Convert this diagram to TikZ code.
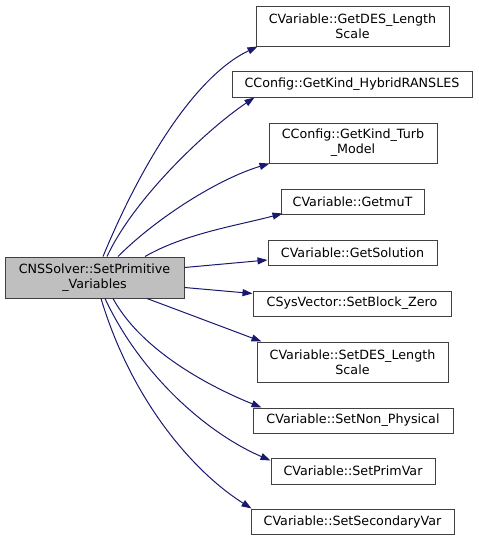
\documentclass[tikz,border=0pt]{standalone}
\usepackage{fontspec}
\setmainfont{DejaVu Sans}
\usetikzlibrary{arrows.meta,calc}
\definecolor{callblue}{HTML}{191970}
\definecolor{boxgray}{HTML}{BFBFBF}
\tikzset{
      callbox/.style={
        draw=black!75,
        line width=1pt,
        fill=white,
        inner sep=0pt,
        align=center,
        font=\fontsize{12.7}{15}\selectfont
      },
      callerbox/.style={
        callbox,
        fill=boxgray
      },
      call/.style={
        draw=callblue,
        line width=1pt,
        -{Triangle[length=10pt,width=7pt]},
        fill=none
      }
    }

\begin{document}
\begin{tikzpicture}[x=1pt,y=-1pt]
    \useasboundingbox (0,0) rectangle (479,541);
    \node[callerbox, minimum width=179pt, minimum height=41pt] (caller) at (94.5,277.5) {CNSSolver::SetPrimitive\\\_Variables};
    \node[callbox, minimum width=193pt, minimum height=40pt] (c1) at (352.5,26) {CVariable::GetDES\_Length\\Scale};
    \node[callbox, minimum width=240pt, minimum height=26pt] (c2) at (352,84) {CConfig::GetKind\_HybridRANSLES};
    \node[callbox, minimum width=168pt, minimum height=40pt] (c3) at (353,143) {CConfig::GetKind\_Turb\\\_Model};
    \node[callbox, minimum width=143pt, minimum height=25pt] (c4) at (352.5,201.5) {CVariable::GetmuT};
    \node[callbox, minimum width=169pt, minimum height=25pt] (c5) at (352.5,252.5) {CVariable::GetSolution};
    \node[callbox, minimum width=198pt, minimum height=25pt] (c6) at (352,303.5) {CSysVector::SetBlock\_Zero};
    \node[callbox, minimum width=191pt, minimum height=40pt] (c7) at (352.5,362) {CVariable::SetDES\_Length\\Scale};
    \node[callbox, minimum width=200pt, minimum height=25pt] (c8) at (353,420.5) {CVariable::SetNon\_Physical};
    \node[callbox, minimum width=164pt, minimum height=26pt] (c9) at (353,471) {CVariable::SetPrimVar};
    \node[callbox, minimum width=203pt, minimum height=25pt] (c10) at (352.5,521.5) {CVariable::SetSecondaryVar};
    % calls from the caller
    \draw[call] ($(caller.north)+(8.5,0)$) .. controls +(38,-92) and +(-63,30) .. ($(c1.south west)+(2,0)$);
    \draw[call] ($(caller.north)+(12.5,0)$) .. controls +(28,-60) and +(-45,30) .. ($(c2.south west)+(23,0)$);
    \draw[call] ($(caller.north)+(23.5,0)$) .. controls +(40,-40) and +(-50,15) .. ($(c3.south west)+(1,0)$);
    \draw[call] ($(caller.north)+(50.5,0)$) .. controls +(40,-23) and +(-45,12) .. ($(c4.south west)+(2,-1)$);
    \draw[call] ($(caller.east)+(0,-10)$) -- ($(c5.west)+(0,7.5)$);
    \draw[call] ($(caller.east)+(0,10)$) -- ($(c6.west)+(0,-10)$);
    \draw[call] ($(caller.south)+(52.5,0)$) .. controls +(40,15) and +(-40,-15) .. ($(c7.north west)+(5,0)$);
    \draw[call] ($(caller.south)+(18.5,0)$) .. controls +(30,55) and +(-45,-18) .. ($(c8.north west)+(9,0)$);
    \draw[call] ($(caller.south)+(10.5,0)$) .. controls +(35,75) and +(-65,-28) .. ($(c9.north west)+(0,3)$);
    \draw[call] ($(caller.south)+(6.5,0)$) .. controls +(30,100) and +(-60,-38) .. ($(c10.north west)+(1,0)$);
\end{tikzpicture}
\end{document}
